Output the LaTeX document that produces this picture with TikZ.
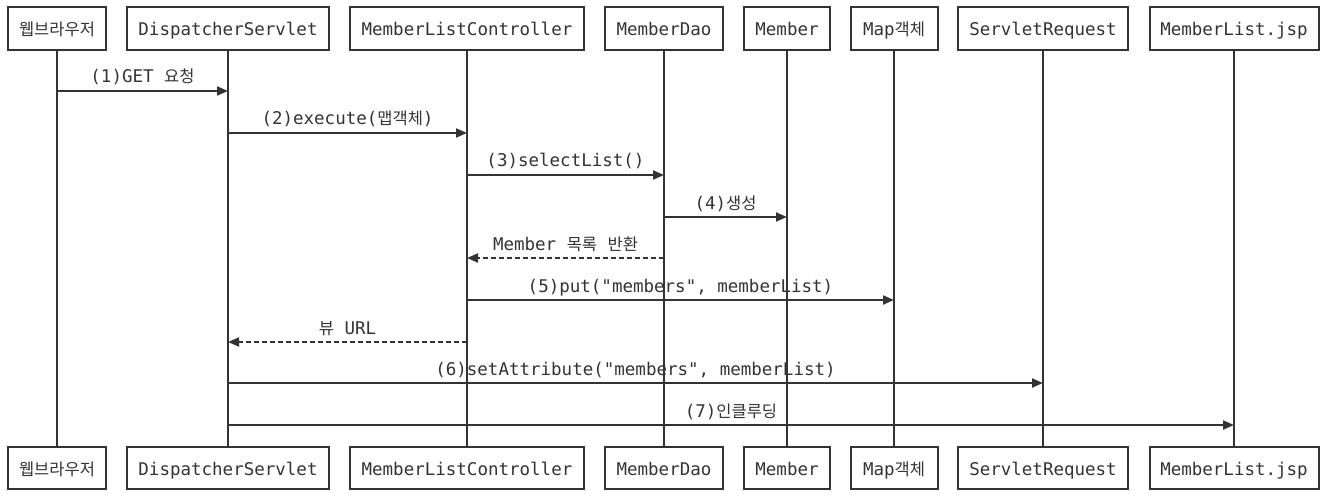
\documentclass[tikz,border=0pt]{standalone}
\usepackage{fontspec}
\setmainfont{DejaVu Sans Mono}[Ligatures=TeXOff]
\newfontfamily\krfont{Noto Sans CJK KR}
\newcommand\K[1]{{\krfont\fontsize{16.5}{18}\selectfont #1}}
\newcommand\dq{\char34\relax}
\usetikzlibrary{arrows.meta}
\definecolor{ln}{HTML}{333333}
\definecolor{tx}{HTML}{333333}
\tikzset{
  actor/.style={draw=ln, line width=2pt, minimum height=43pt, inner sep=0pt, text=tx, fill=white, text height=15pt, text depth=0pt},
  lifeline/.style={draw=ln, line width=2pt},
  msg/.style={draw=ln, line width=2pt, -{Triangle[length=11pt,width=9pt]}},
  ret/.style={msg, dash pattern=on 5pt off 3pt},
  lbl/.style={midway, anchor=base, yshift=8pt, inner sep=0pt, text=tx}
}
\begin{document}
\begin{tikzpicture}[x=1pt,y=-1pt, font=\fontsize{17.5}{20}\selectfont]
\useasboundingbox (0,0) rectangle (1326,500);
% top actors
\node[actor, minimum width=98pt]  (a1) at (57,28.5)   {\K{웹브라우저}};
\node[actor, minimum width=202pt] (a2) at (228,28.5)  {DispatcherServlet};
\node[actor, minimum width=234pt] (a3) at (467,28.5)  {MemberListController};
\node[actor, minimum width=118pt] (a4) at (664,28.5)  {MemberDao};
\node[actor, minimum width=86pt]  (a5) at (787,28.5)  {Member};
\node[actor, minimum width=87pt]  (a6) at (894,28.5)  {Map\K{객체}};
\node[actor, minimum width=170pt] (a7) at (1043,28.5) {ServletRequest};
\node[actor, minimum width=169pt] (a8) at (1234,28.5) {MemberList.jsp};
% bottom actors
\node[actor, minimum width=98pt,  minimum height=42pt] (b1) at (57,468)   {\K{웹브라우저}};
\node[actor, minimum width=202pt, minimum height=42pt] (b2) at (228,468)  {DispatcherServlet};
\node[actor, minimum width=234pt, minimum height=42pt] (b3) at (467,468)  {MemberListController};
\node[actor, minimum width=118pt, minimum height=42pt] (b4) at (664,468)  {MemberDao};
\node[actor, minimum width=86pt,  minimum height=42pt] (b5) at (787,468)  {Member};
\node[actor, minimum width=87pt,  minimum height=42pt] (b6) at (894,468)  {Map\K{객체}};
\node[actor, minimum width=170pt, minimum height=42pt] (b7) at (1043,468) {ServletRequest};
\node[actor, minimum width=169pt, minimum height=42pt] (b8) at (1234,468) {MemberList.jsp};
% lifelines
\foreach \i in {1,...,8} { \draw[lifeline] (a\i.south) -- (b\i.north); }
% rows
\coordinate (r1) at (0,91);
\coordinate (r2) at (0,133);
\coordinate (r3) at (0,175);
\coordinate (r4) at (0,217);
\coordinate (r5) at (0,258);
\coordinate (r6) at (0,300);
\coordinate (r7) at (0,342);
\coordinate (r8) at (0,383);
\coordinate (r9) at (0,425);
% messages
\draw[msg] (a1 |- r1) -- node[lbl] {(1)GET \K{요청}} (a2 |- r1);
\draw[msg] (a2 |- r2) -- node[lbl] {(2)execute(\K{맵객체})} (a3 |- r2);
\draw[msg] (a3 |- r3) -- node[lbl] {(3)selectList()} (a4 |- r3);
\draw[msg] (a4 |- r4) -- node[lbl] {(4)\K{생성}} (a5 |- r4);
\draw[ret] (a4 |- r5) -- node[lbl] {Member \K{목록} \K{반환}} (a3 |- r5);
\draw[msg] (a3 |- r6) -- node[lbl] {(5)put(\dq members\dq, memberList)} (a6 |- r6);
\draw[ret] (a3 |- r7) -- node[lbl] {\K{뷰} URL} (a2 |- r7);
\draw[msg] (a2 |- r8) -- node[lbl] {(6)setAttribute(\dq members\dq, memberList)} (a7 |- r8);
\draw[msg] (a2 |- r9) -- node[lbl] {(7)\K{인클루딩}} (a8 |- r9);
\end{tikzpicture}
\end{document}
